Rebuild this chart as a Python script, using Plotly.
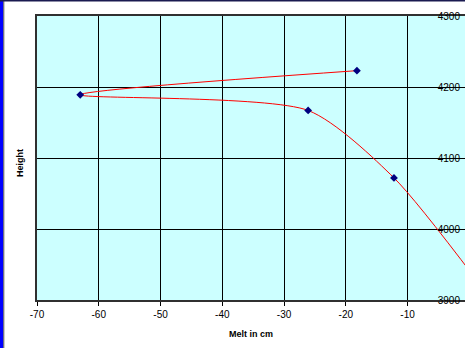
import plotly.graph_objects as go

melt = [-18.2, -63.0, -26.1, -12.2, 1.0]
height = [4223, 4189, 4167, 4072, 3930]
xticks = [-70, -60, -50, -40, -30, -20, -10]
xticklabels = ["-70", "-60", "-50", "-40", "-30", "-20", "-10"]
yticks = [3900, 4000, 4100, 4200, 4300]

W, H = 465, 348
L, R, T, B = 37, 0, 16, 48
pw, ph = W - L - R, H - T - B

def px_x(p):
    return (p - L) / pw

def px_y(p):
    return (H - B - p) / ph

fig = go.Figure()
fig.add_trace(go.Scatter(
    x=melt, y=height, mode="lines",
    line=dict(color="#FF0000", width=1, shape="spline", smoothing=0.7),
    hoverinfo="skip", showlegend=False, cliponaxis=True))
fig.add_trace(go.Scatter(
    x=melt, y=height, mode="markers",
    marker=dict(symbol="diamond", color="#000080", size=6),
    showlegend=False, cliponaxis=True))

font = dict(family="Liberation Sans, Arial, sans-serif", size=10, color="black")

fig.update_layout(
    width=W, height=H,
    margin=dict(l=L, r=R, t=T, b=B, autoexpand=False),
    paper_bgcolor="white", plot_bgcolor="#CCFFFF",
    font=font,
    xaxis=dict(range=[-70, -0.7], tickvals=xticks, ticktext=xticklabels,
               ticks="outside", ticklen=4,
               tickcolor="black", showgrid=True, gridcolor="black", gridwidth=1,
               showline=True, linecolor="#303030", linewidth=2, mirror=True,
               zeroline=False, tickfont=font,
               title=dict(text="<b>Melt in cm</b>", font=dict(size=9, family="Liberation Sans, Arial"),
                          standoff=12)),
    yaxis=dict(range=[3900, 4300], tickvals=yticks, side="right",
               ticklabelposition="inside", ticklabeloverflow="allow",
               ticks="inside", ticklen=4, tickcolor="black",
               showgrid=True, gridcolor="black", gridwidth=1,
               showline=True, linecolor="#303030", linewidth=2, mirror=True,
               zeroline=False, tickfont=font),
    annotations=[dict(text="<b>Height</b>", xref="paper", yref="paper",
                      x=px_x(20), y=px_y(163), textangle=-90, showarrow=False,
                      font=dict(size=9, family="Liberation Sans, Arial"),
                      xanchor="center", yanchor="middle")],
    shapes=[
        dict(type="rect", xref="paper", yref="paper", x0=px_x(0), x1=px_x(3.3),
             y0=px_y(H), y1=px_y(0), fillcolor="#0000FF", line=dict(width=0), layer="above"),
        dict(type="rect", xref="paper", yref="paper", x0=px_x(3.3), x1=px_x(4.3),
             y0=px_y(H), y1=px_y(0), fillcolor="#505050", line=dict(width=0), layer="above"),
        dict(type="rect", xref="paper", yref="paper", x0=px_x(0), x1=px_x(W),
             y0=px_y(1.5), y1=px_y(0), fillcolor="#1a1a50", line=dict(width=0), layer="above"),
    ],
)

fig.write_html("out.html")
